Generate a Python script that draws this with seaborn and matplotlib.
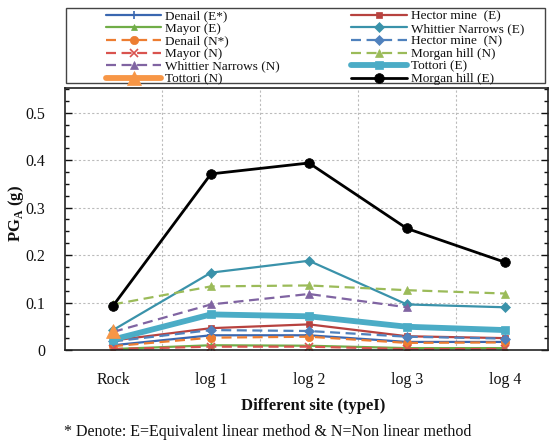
import numpy as np
import pandas as pd
import matplotlib
matplotlib.use("Agg")
import matplotlib.pyplot as plt
from matplotlib.patches import Rectangle
from matplotlib.ticker import MultipleLocator
import seaborn as sns

sites = ["Rock", "log 1", "log 2", "log 3", "log 4"]

denail_e = [0.010, 0.031, 0.031, 0.017, 0.017]
hector_e = [0.020, 0.046, 0.054, 0.029, 0.025]
mayor_e = [0.002, 0.010, 0.009, 0.004, 0.004]
whittier_e = [0.042, 0.163, 0.188, 0.096, 0.090]
denail_n = [0.008, 0.026, 0.028, 0.015, 0.016]
hector_n = [0.018, 0.042, 0.040, 0.028, 0.024]
mayor_n = [0.002, 0.007, 0.007, 0.002, 0.002]
morgan_n = [0.096, 0.134, 0.136, 0.126, 0.119]
whittier_n = [0.038, 0.096, 0.118, 0.090, np.nan]
tottori_e = [0.022, 0.075, 0.071, 0.049, 0.042]
tottori_n = [0.040, np.nan, np.nan, np.nan, np.nan]
morgan_e = [0.093, 0.371, 0.394, 0.256, 0.185]

# (label, values, color, linestyle, marker, linewidth, markersize)
series = [
    ("Denail (E*)", denail_e, "#3A67B0", "-", "+", 1.6, 6),
    ("Hector mine  (E)", hector_e, "#B7423F", "-", "s", 1.6, 5),
    ("Mayor (E)", mayor_e, "#70AD47", "-", "^", 1.6, 5),
    ("Whittier Narrows (E)", whittier_e, "#3A92AA", "-", "D", 1.6, 5),
    ("Denail (N*)", denail_n, "#ED7D31", "--", "o", 1.6, 6),
    ("Hector mine  (N)", hector_n, "#4F81BD", "--", "D", 1.6, 5),
    ("Mayor (N)", mayor_n, "#D9534F", "--", "x", 1.6, 6),
    ("Morgan hill (N)", morgan_n, "#9BBB59", "--", "^", 1.6, 6),
    ("Whittier Narrows (N)", whittier_n, "#8064A2", "--", "^", 1.6, 6),
    ("Tottori (E)", tottori_e, "#4BACC6", "-", "s", 4.2, 6),
    ("Tottori (N)", tottori_n, "#F79646", "-", "^", 4.2, 10),
    ("Morgan hill (E)", morgan_e, "#000000", "-", "o", 2.0, 7),
]

legend_order = ["Denail (E*)", "Mayor (E)", "Denail (N*)", "Mayor (N)",
                "Whittier Narrows (N)", "Tottori (N)",
                "Hector mine  (E)", "Whittier Narrows (E)", "Hector mine  (N)",
                "Morgan hill (N)", "Tottori (E)", "Morgan hill (E)"]

sns.set_theme(style="white")
plt.rcParams["font.family"] = ["Liberation Serif", "DejaVu Serif"]
plt.rcParams["mathtext.fontset"] = "custom"
plt.rcParams["mathtext.rm"] = "Liberation Serif"
plt.rcParams["mathtext.bf"] = "Liberation Serif:bold"

fig = plt.figure(figsize=(5.52, 4.43), dpi=100)
ax = fig.add_axes([65 / 552, 1 - 350 / 443, (548 - 65) / 552, (350 - 88) / 443])

xpos = np.arange(len(sites))
for lab, vals, col, ls, mk, lw, ms in series:
    df = pd.DataFrame({"x": xpos, "PGA": vals}).dropna()
    sns.lineplot(data=df, x="x", y="PGA", ax=ax, color=col, linestyle=ls,
                 marker=mk, linewidth=lw, markersize=ms, label=lab,
                 markeredgecolor=col, markeredgewidth=1.2 if mk in "+x" else 0.5)
    if ls == "--":
        ax.lines[-1].set_dashes((4.5, 2.5))

ax.set_xlim(-0.49, 4.44)
ax.set_ylim(0, 0.552)
ax.set_xticks(xpos)
ax.set_xticklabels(sites)
ax.set_yticks([0, 0.1, 0.2, 0.3, 0.4, 0.5])
ax.set_yticklabels(["0", "0.1", "0.2", "0.3", "0.4", "0.5"])
ax.yaxis.set_minor_locator(MultipleLocator(0.025))

ax.grid(False)
for yv in [0.1, 0.2, 0.3, 0.4, 0.5]:
    ax.axhline(yv, color="#BBBBBB", lw=0.8, ls=(0, (2, 2)), zorder=0)
for xv in xpos[:-1] + 0.5:
    ax.axvline(xv, color="#BBBBBB", lw=0.8, ls=(0, (2, 2)), zorder=0)

ax.tick_params(axis="y", which="both", direction="in", left=True, right=True,
               labelsize=11.5, pad=14, colors="#111111")
ax.tick_params(axis="y", which="major", length=5, width=1)
ax.tick_params(axis="y", which="minor", length=3, width=1)
ax.tick_params(axis="x", which="major", direction="in", bottom=True, top=False,
               length=4, width=1, labelsize=11.5, pad=16, colors="#111111")
ax.tick_params(axis="x", which="minor", bottom=False, top=False)

for s in ax.spines.values():
    s.set_color("#222222")
    s.set_linewidth(1.2)

ax.set_xlabel("Different site (typeI)", fontsize=12, fontweight="bold", color="#111111")
ax.xaxis.set_label_coords((313 - 65) / (548 - 65), -(398 - 350) / (350 - 88))
ax.set_ylabel(r"PG$_\mathbf{A}$ (g)", fontsize=12, fontweight="bold", color="#111111")
ax.yaxis.set_label_coords(-(65 - 26) / (548 - 65), (350 - 213) / (350 - 88))

handles, labels = ax.get_legend_handles_labels()
hmap = dict(zip(labels, handles))
ax.get_legend().remove()
leg = fig.legend([hmap[l] for l in legend_order], legend_order, ncol=2,
                 loc="upper left", bbox_to_anchor=(106 / 552, 1 - 10 / 443),
                 frameon=False, fontsize=9.5, handlelength=4.2, handletextpad=0.3,
                 columnspacing=5.4, labelspacing=0.03, borderpad=0, borderaxespad=0,
                 numpoints=1)
for t in leg.get_texts():
    t.set_color("#111111")

fig.patches.append(Rectangle((66 / 552, 1 - 83 / 443), (545 - 66) / 552, 75 / 443,
                             transform=fig.transFigure, fill=False,
                             edgecolor="#444444", linewidth=1.0))

fig.text(268 / 552, 1 - 432 / 443,
         "* Denote: E=Equivalent linear method & N=Non linear method",
         ha="center", va="center", fontsize=11.5, color="#111111")

fig.savefig("out.png", dpi=100)
